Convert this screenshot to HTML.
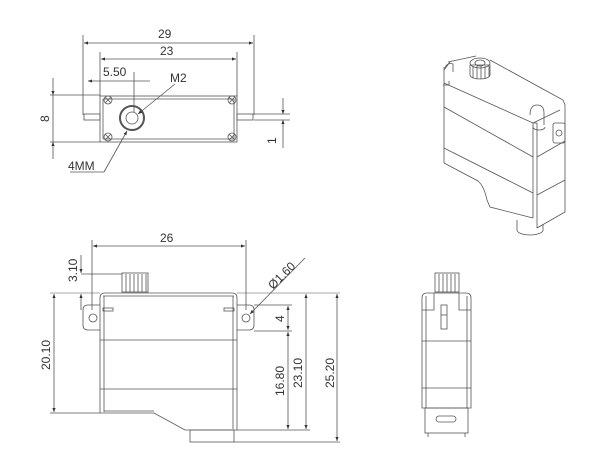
<!DOCTYPE html>
<html><head><meta charset="utf-8"><style>
html,body{margin:0;padding:0;background:#fff;width:600px;height:473px;overflow:hidden}
svg{display:block}
text{font-family:"Liberation Sans",sans-serif;fill:#333;font-size:12px}
</style></head><body>
<svg width="600" height="473" viewBox="0 0 600 473" xmlns="http://www.w3.org/2000/svg">
<defs>
<marker id="a" viewBox="0 0 10 10" refX="10" refY="5" markerWidth="7" markerHeight="5" orient="auto-start-reverse"><path d="M0,1 L10,5 L0,9 z" fill="#333"/></marker>
</defs>
<g stroke="#555" stroke-width="0.8" fill="none">
<!-- TOP VIEW -->
<line x1="83" y1="35" x2="83" y2="115"/><line x1="254" y1="35" x2="254" y2="115"/>
<line x1="84" y1="43" x2="253" y2="43" marker-start="url(#a)" marker-end="url(#a)"/>
<line x1="100" y1="52" x2="100" y2="96"/><line x1="237" y1="52" x2="237" y2="96"/>
<line x1="101" y1="59" x2="236" y2="59" marker-start="url(#a)" marker-end="url(#a)"/>
<line x1="88" y1="81" x2="100" y2="81" marker-start="url(#a)"/>
<line x1="100" y1="81" x2="150" y2="81"/>
<line x1="134" y1="72" x2="134" y2="112"/>
<rect x="100" y="96" width="137" height="46"/>
<line x1="103" y1="99" x2="234" y2="99"/><line x1="103" y1="139" x2="234" y2="139"/>
<line x1="103" y1="99" x2="103" y2="139"/><line x1="234" y1="99" x2="234" y2="139"/>
<circle cx="108" cy="100" r="4"/><circle cx="108" cy="137" r="4"/><circle cx="232" cy="100" r="4"/><circle cx="232" cy="137" r="4"/>
<path d="M105,97l6,6M111,97l-6,6M105,134l6,6M111,134l-6,6M229,97l6,6M235,97l-6,6M229,134l6,6M235,134l-6,6"/>
<circle cx="132" cy="118" r="12" stroke-width="2"/><circle cx="132" cy="118" r="6"/>
<rect x="84" y="114" width="16" height="6"/><rect x="237" y="114" width="16" height="6"/>
<line x1="50" y1="95" x2="100" y2="95"/><line x1="50" y1="142" x2="100" y2="142"/>
<line x1="53" y1="78" x2="53" y2="95" marker-end="url(#a)"/><line x1="53" y1="159" x2="53" y2="142" marker-end="url(#a)"/>
<line x1="53" y1="95" x2="53" y2="142"/>
<line x1="254" y1="114" x2="290" y2="114"/><line x1="254" y1="120" x2="290" y2="120"/>
<line x1="283" y1="98" x2="283" y2="114" marker-end="url(#a)"/><line x1="283" y1="148" x2="283" y2="120" marker-end="url(#a)"/>
<line x1="175" y1="84" x2="138" y2="114" marker-end="url(#a)"/>
<line x1="70" y1="172" x2="104" y2="172"/><line x1="104" y1="172" x2="127" y2="131" marker-end="url(#a)"/>
<!-- FRONT VIEW -->
<line x1="92" y1="240" x2="92" y2="310"/><line x1="246" y1="240" x2="246" y2="310"/>
<line x1="93" y1="246" x2="245" y2="246" marker-start="url(#a)" marker-end="url(#a)"/>
<line x1="81" y1="255" x2="81" y2="273" marker-end="url(#a)"/><line x1="81" y1="310" x2="81" y2="294" marker-end="url(#a)"/>
<line x1="81" y1="274" x2="122" y2="274"/>
<rect x="122" y="273" width="26" height="19"/>
<path d="M126,274v18M130,274v18M134,274v18M138,274v18M142,274v18M146,274v18"/>
<path d="M105,293 h127 q5,0 5,5 V430 H185 L154,413 H100 V298 q0,-5 5,-5 z"/>
<line x1="103" y1="296" x2="234" y2="296"/>
<line x1="104" y1="296" x2="104" y2="412"/><line x1="233" y1="296" x2="233" y2="429"/>
<line x1="104" y1="411" x2="154" y2="411"/>
<path d="M100,305 h-12 q-5,0 -5,5 v15 q0,5 5,5 h12"/><circle cx="93" cy="318" r="4"/>
<path d="M237,305 h12 q5,0 5,5 v15 q0,5 -5,5 h-12"/><circle cx="246" cy="318" r="4"/>
<rect x="103" y="308" width="10" height="3"/><rect x="224" y="308" width="10" height="3"/>
<line x1="100" y1="340" x2="237" y2="340"/><line x1="100" y1="389" x2="237" y2="389"/>
<rect x="190" y="430" width="44" height="12"/>
<line x1="50" y1="293" x2="100" y2="293" stroke-width="0.6"/>
<line x1="237" y1="293" x2="340" y2="293" stroke-width="0.6"/>
<line x1="50" y1="413" x2="100" y2="413"/>
<line x1="54" y1="294" x2="54" y2="412" marker-start="url(#a)" marker-end="url(#a)"/>
<line x1="254" y1="305" x2="292" y2="305"/><line x1="254" y1="331" x2="292" y2="331"/>
<line x1="288" y1="306" x2="288" y2="330" marker-start="url(#a)" marker-end="url(#a)"/>
<line x1="237" y1="430" x2="310" y2="430"/><line x1="234" y1="442" x2="340" y2="442"/>
<line x1="288" y1="332" x2="288" y2="429" marker-start="url(#a)" marker-end="url(#a)"/>
<line x1="306" y1="294" x2="306" y2="429" marker-start="url(#a)" marker-end="url(#a)"/>
<line x1="337" y1="294" x2="337" y2="441" marker-start="url(#a)" marker-end="url(#a)"/>
<line x1="305" y1="258" x2="250" y2="314" marker-end="url(#a)"/>
<!-- ISO VIEW -->
<path d="M444,67 L444,163 M444,83 L533,123 L537,123 L537,228 M533,123 L533,218 M448,62 L476,56 M490,60 L563,100 L565,105 L565,212 L537,228 M444,70 L450,62"/>
<path d="M444,107 L533,157 M444,148 L533,193 M537,157 L565,141 M537,195 L565,180 M444,163 L478,181 Q484,186 487,200 L490,207 L533,218"/>
<path d="M533,123 L560,110"/>
<path d="M530,115 q0,-10 7,-10 q7,0 7,8 v12 M533,127 a6,3 0 0 0 12,0"/>
<rect x="553" y="123" width="12" height="20" rx="2"/><circle cx="559" cy="133" r="3"/>
<path d="M445,68 q2,-6 8,-4 v8 M443,85 h6 v-4"/>
<path d="M517,220 v10 a13,5 0 0 0 26,0 v-6"/>
<path d="M470,75 v-10 h20 v10 a10,4 0 0 1 -20,0"/>
<path d="M473,66v12M477,66v13M481,66v13M485,66v13M489,66v11"/>
<ellipse cx="480" cy="63" rx="10" ry="5"/><ellipse cx="480" cy="63" rx="5" ry="3"/>
<!-- SIDE VIEW -->
<rect x="435" y="273" width="24" height="19"/>
<path d="M439,274v18M443,274v18M447,274v18M451,274v18M455,274v18"/>
<path d="M422,408 V298 q0,-5 5,-5 h39 q5,0 5,5 V408 z"/>
<path d="M426,408 V296 M467,408 V296"/>
<path d="M422,310 h12 v-17 M471,310 h-12 v-17"/>
<rect x="441" y="305" width="6" height="24"/>
<line x1="441" y1="315" x2="447" y2="315"/>
<line x1="422" y1="341" x2="471" y2="341"/><line x1="422" y1="388" x2="471" y2="388"/>
<rect x="425" y="408" width="43" height="25"/>
<rect x="436" y="416" width="20" height="6" rx="3"/>
<line x1="428" y1="433" x2="428" y2="437"/><line x1="465" y1="433" x2="465" y2="437"/>
</g>
<text x="158" y="38">29</text>
<text x="160" y="55">23</text>
<text x="103" y="76">5.50</text>
<text x="170" y="82">M2</text>
<text x="68" y="170">4MM</text>
<text transform="translate(49,122) rotate(-90)">8</text>
<text transform="translate(276,144) rotate(-90)">1</text>
<text x="160" y="242">26</text>
<text transform="translate(77,282) rotate(-90)">3.10</text>
<text transform="translate(50,370) rotate(-90)">20.10</text>
<text transform="translate(284,322) rotate(-90)">4</text>
<text transform="translate(284,396) rotate(-90)">16.80</text>
<text transform="translate(302,388) rotate(-90)">23.10</text>
<text transform="translate(334,388) rotate(-90)">25.20</text>
<text transform="translate(273,290) rotate(-45)">Ø1.60</text>
</svg>
</body></html>
